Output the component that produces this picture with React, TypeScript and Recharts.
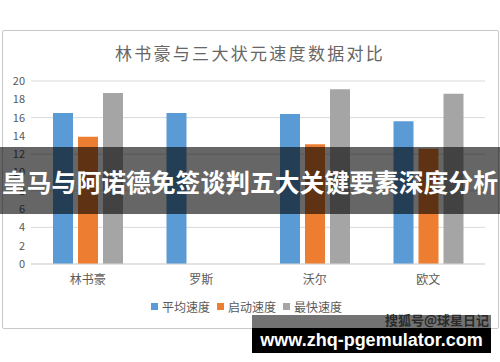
import React from "react";
import { BarChart, Bar, XAxis, YAxis, CartesianGrid, Legend } from "recharts";

const players = ["林书豪", "罗斯", "沃尔", "欧文"];
const avgSpeed = [16.5, 16.5, 16.4, 15.6];
const startSpeed = [13.9, null, 13.1, 12.6];
const topSpeed = [18.7, null, 19.1, 18.6];
const yTicks = [0, 2, 4, 6, 8, 10, 12, 14, 16, 18, 20];

const series = [
  { key: "avg", name: "平均速度", color: "#5b9bd5" },
  { key: "start", name: "启动速度", color: "#ed7d31" },
  { key: "top", name: "最快速度", color: "#a5a5a5" },
];

const data = players.map((p, i) => ({
  name: p,
  avg: avgSpeed[i],
  start: startSpeed[i],
  top: topSpeed[i],
}));

const FONT = '"Noto Sans CJK SC", "Noto Sans", sans-serif';

const LegendContent = () => (
  <div style={{ display: "flex", justifyContent: "center", alignItems: "center", fontSize: 12, color: "#595959", fontFamily: FONT }}>
    {series.map((s) => (
      <span key={s.key} style={{ display: "flex", alignItems: "center", marginRight: 7 }}>
        <span style={{ width: 7, height: 7, background: s.color, display: "inline-block", marginRight: 4 }} />
        {s.name}
      </span>
    ))}
  </div>
);

const App: React.FC = () => {
  return (
    <div style={{ position: "absolute", left: 0, top: 0, width: 500, height: 362, background: "#fff", overflow: "hidden", fontFamily: FONT }}>
      {/* chart frame */}
      <div style={{ position: "absolute", left: 2, top: 30, width: 495, height: 297, border: "1px solid #c8c8c8", borderRadius: 2 }} />
      <div style={{ position: "absolute", left: 0, top: 40, width: 500, textAlign: "center", fontSize: 17, letterSpacing: 2.3, color: "#666" }}>
        林书豪与三大状元速度数据对比
      </div>
      <div style={{ position: "absolute", left: 0, top: 0 }}>
        <BarChart width={500} height={362} data={data} margin={{ top: 81, right: 15, left: 0, bottom: 68 }} barGap={5} barSize={20}>
          <CartesianGrid vertical={false} stroke="#d9d9d9" />
          <XAxis
            dataKey="name"
            height={30}
            tickLine={false}
            axisLine={{ stroke: "#d9d9d9" }}
            tickMargin={5}
            tick={{ fontSize: 12, fill: "#595959", fontFamily: FONT }}
          />
          <YAxis
            domain={[0, 20]}
            ticks={yTicks}
            width={31}
            axisLine={false}
            tickLine={false}
            tickMargin={0}
            tick={{ fontSize: 11, fill: "#595959", fontFamily: FONT }}
          />
          <Legend verticalAlign="middle" content={<LegendContent />} wrapperStyle={{ top: 298, left: 0, width: 500 }} />
          {series.map((s) => (
            <Bar key={s.key} dataKey={s.key} name={s.name} fill={s.color} isAnimationActive={false} />
          ))}
        </BarChart>
      </div>
      {/* overlay banner */}
      <div style={{ position: "absolute", left: 0, top: 147, width: 500, height: 67, background: "rgba(0,0,0,0.6)", display: "flex", alignItems: "center", justifyContent: "center", color: "#fff", fontWeight: "bold", fontSize: 24.8, whiteSpace: "nowrap" }}>
        皇马与阿诺德免签谈判五大关键要素深度分析
      </div>
      {/* watermarks */}
      <div style={{ position: "absolute", left: 252, top: 315, width: 239, height: 13, background: "rgba(0,0,0,0.55)" }} />
      <div style={{ position: "absolute", left: 385, top: 310, fontSize: 13, color: "#2a2a2a", fontWeight: "bold", whiteSpace: "nowrap" }}>
        搜狐号@球星日记
      </div>
      <div style={{ position: "absolute", left: 252, top: 328, width: 239, height: 25, background: "#000", color: "#fff", fontWeight: "bold", fontSize: 18, fontFamily: '"Liberation Sans", Arial, sans-serif', display: "flex", alignItems: "center", justifyContent: "center" }}>
        www.zhq-pgemulator.com
      </div>
    </div>
  );
};

export default App;
